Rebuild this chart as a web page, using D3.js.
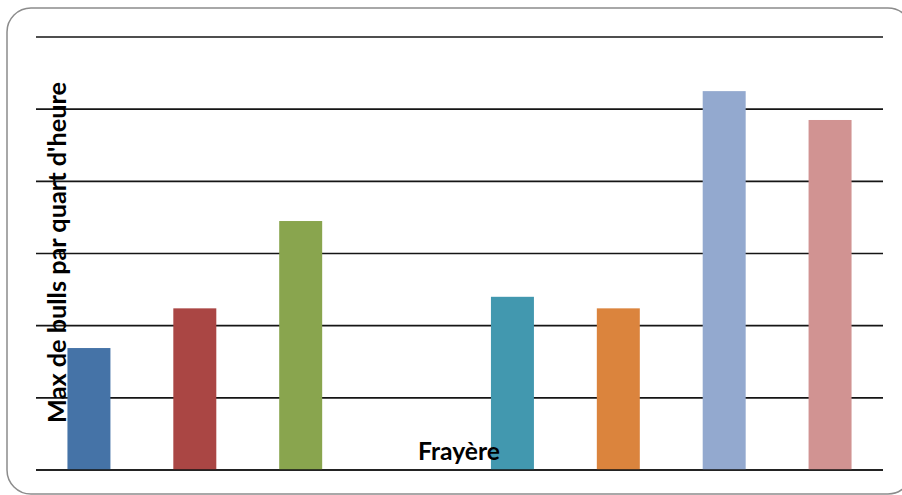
<!DOCTYPE html>
<html>
<head>
<meta charset="utf-8">
<script src="https://cdn.jsdelivr.net/npm/d3@7"></script>
<style>
  html, body { margin: 0; padding: 0; background: #ffffff; }
  svg { display: block; }
</style>
</head>
<body>
<div id="chart"></div>
<script>
// ---- Data ----
const categories = ["F1", "F2", "F3", "F4", "F5", "F6", "F7", "F8"];
const values = [1.69, 2.24, 3.45, 0, 2.40, 2.24, 5.25, 4.85];
const colors = ["#4573A7", "#AA4644", "#89A54E", "#80699B", "#4298AF", "#DB843D", "#93A9CF", "#D19392"];
const yTicks = [0, 1, 2, 3, 4, 5, 6];
const xTitle = "Frayère";
const yTitle = "Max de bulls par quart d'heure";

// ---- Layout ----
const W = 902, H = 495;
const plot = { left: 36, right: 883, top: 37, bottom: 470 };

const svg = d3.select("#chart").append("svg")
  .attr("width", W).attr("height", H);

// Frame
svg.append("rect")
  .attr("x", 7).attr("y", 8)
  .attr("width", 905).attr("height", 486)
  .attr("rx", 24).attr("ry", 24)
  .attr("fill", "#ffffff")
  .attr("stroke", "#8c8c8c")
  .attr("stroke-width", 1.5);

const x = d3.scaleBand()
  .domain(categories)
  .range([plot.left, plot.right])
  .paddingInner(0.594)
  .paddingOuter(0.297);

const y = d3.scaleLinear()
  .domain([0, 6])
  .range([plot.bottom, plot.top]);

// Gridlines
svg.append("g")
  .selectAll("line")
  .data(yTicks)
  .join("line")
  .attr("x1", plot.left).attr("x2", plot.right)
  .attr("y1", d => y(d)).attr("y2", d => y(d))
  .attr("stroke", "#151515")
  .attr("stroke-width", 1.7);

// Bars
svg.append("g")
  .selectAll("rect")
  .data(categories.map((c, i) => ({ c, v: values[i], col: colors[i] })))
  .join("rect")
  .attr("x", d => x(d.c))
  .attr("width", x.bandwidth())
  .attr("y", d => y(d.v))
  .attr("height", d => y(0) - y(d.v))
  .attr("fill", d => d.col);

// Baseline axis
svg.append("line")
  .attr("x1", plot.left).attr("x2", plot.right)
  .attr("y1", y(0)).attr("y2", y(0))
  .attr("stroke", "#151515")
  .attr("stroke-width", 1.7);

const font = "Lato, 'Open Sans', sans-serif";

function fitText(sel, target) {
  const len = sel.node().getComputedTextLength();
  const fs = parseFloat(sel.attr("font-size"));
  sel.attr("font-size", (fs * target / len).toFixed(2));
}

// X title
const xt = svg.append("text")
  .attr("x", 459).attr("y", 460)
  .attr("text-anchor", "middle")
  .attr("font-family", font)
  .attr("font-weight", "bold")
  .attr("font-size", 20)
  .attr("fill", "#000")
  .text(xTitle);
fitText(xt, 82);

// Y title
const yt = svg.append("text")
  .attr("transform", "translate(66,252.5) rotate(-90)")
  .attr("text-anchor", "middle")
  .attr("font-family", font)
  .attr("font-weight", "bold")
  .attr("font-size", 20)
  .attr("fill", "#000")
  .text(yTitle);
fitText(yt, 341);
</script>
</body>
</html>
